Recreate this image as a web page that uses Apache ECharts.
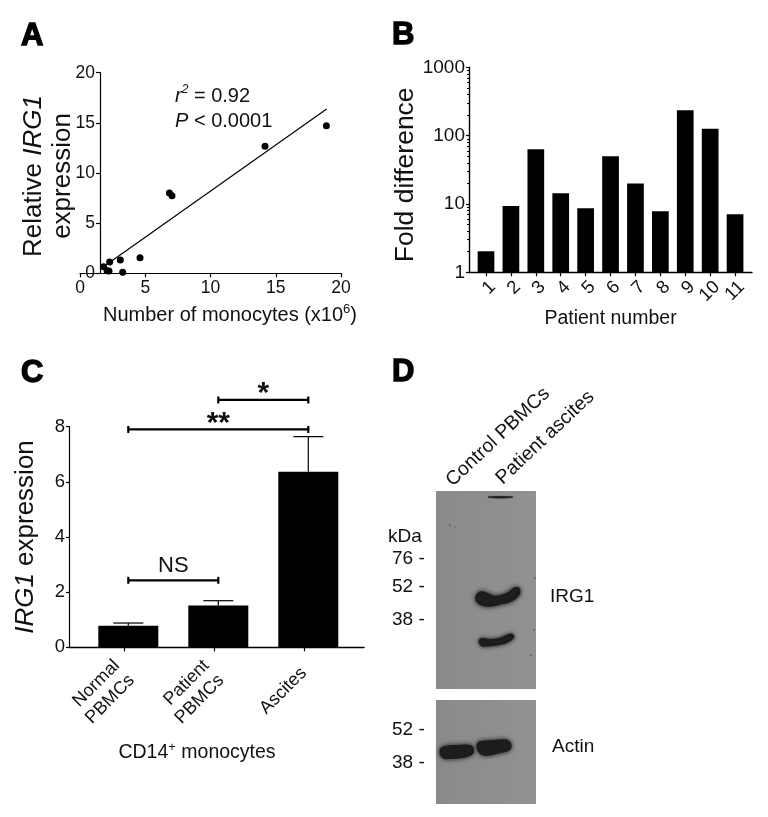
<!DOCTYPE html>
<html><head><meta charset="utf-8">
<style>html,body{margin:0;padding:0;background:#fff}#c{width:768px;height:817px}</style>
<script src="https://cdn.jsdelivr.net/npm/echarts@6/dist/echarts.min.js"></script>
</head><body><div id="c"></div>
<script>
// Panel A
const monocytePoints = [[1.81,0.66],[2.27,1.13],[2.22,0.23],[2.08,0.25],[3.09,1.33],[3.27,0.1],[4.6,1.56],[6.85,8.0],[7.05,7.74],[14.18,12.66],[18.88,14.72]];
const fitLine = [[1.8,0.66],[18.9,16.38]];
// Panel B
const patients = [1,2,3,4,5,6,7,8,9,10,11];
const foldDifference = [2.03,9.35,63,14.3,8.64,49.9,20,7.8,235,126,7.06];
// Panel C
const groupLabels = ['Normal\nPBMCs','Patient\nPBMCs','Ascites'];
const groupPositions = [1,2,3];
const groupTicks = [0.955,1.95,2.95];
const expression = [0.78,1.52,6.37];
const expressionUpper = [0.88,1.69,7.64];
const brackets = [[1,2,2.43,'NS'],[1,3,7.9,'**'],[2,3,8.97,'*']];

const FONT = '"Liberation Sans", Arial, sans-serif';
const BLK = '#111';
const PATIENT_AXIS_MAX = 11.68;
const line = (w)=>({show:true,onZero:false,lineStyle:{color:'#000',width:w}});
const tick = (len,w)=>({show:true,length:len,lineStyle:{color:'#000',width:w}});

function panelLetter(t,x,y){return {type:'text',x,y,style:{text:t,font:'bold 31px '+FONT,fill:'#000',stroke:'#000',lineWidth:1.4,textAlign:'left',textVerticalAlign:'middle'}};}
function txt(t,x,y,size,align,extra){return Object.assign({type:'text',x,y,style:{text:t,font:size+'px '+FONT,fill:BLK,textAlign:align||'left',textVerticalAlign:'middle'}},extra||{});}
function band(points,blur,w){return {type:'polygon',shape:{points,smooth:0.4},style:{fill:'#1c1c1c',stroke:'#1c1c1c',lineWidth:w==null?3:w,lineJoin:'round',shadowBlur:blur||5,shadowColor:'#222'}};}
function speck(x,y,s){return {type:'circle',shape:{cx:x,cy:y,r:s||0.7},style:{fill:'#333'}};}
const blotFill = {type:'linear',x:0,y:0,x2:1,y2:0,colorStops:[{offset:0,color:'#8a8a8a'},{offset:0.5,color:'#8e8e8e'},{offset:1,color:'#929292'}]};

const graphics = [
  panelLetter('A',21,36),panelLetter('B',392,35),panelLetter('C',21,373),panelLetter('D',392,372),
  {type:'text',x:175,y:96,style:{text:'{i|r}{s|2}{n| = 0.92}',textAlign:'left',textVerticalAlign:'middle',fill:BLK,
    rich:{i:{font:'italic 20px '+FONT,fill:BLK,lineHeight:24},s:{font:'italic 12px '+FONT,fill:BLK,verticalAlign:'top',lineHeight:24},n:{font:'20px '+FONT,fill:BLK,lineHeight:24}}}},
  {type:'text',x:175,y:121,style:{text:'{i|P}{n| < 0.0001}',textAlign:'left',textVerticalAlign:'middle',fill:BLK,
    rich:{i:{font:'italic 20px '+FONT,fill:BLK},n:{font:'20px '+FONT,fill:BLK}}}},
  {type:'text',x:103,y:315,style:{text:'{n|Number of monocytes (x10}{s|6}{n|)}',textAlign:'left',textVerticalAlign:'middle',
    rich:{n:{font:'20px '+FONT,fill:BLK,lineHeight:24},s:{font:'13px '+FONT,fill:BLK,verticalAlign:'top',lineHeight:24}}}},
  {type:'text',x:197,y:753,style:{text:'{n|CD14}{s|+}{n| monocytes}',textAlign:'center',textVerticalAlign:'middle',
    rich:{n:{font:'19.5px '+FONT,fill:BLK,lineHeight:24},s:{font:'13px '+FONT,fill:BLK,verticalAlign:'top',lineHeight:24}}}},
  // blots
  {type:'rect',shape:{x:436,y:491,width:100,height:198},style:{fill:blotFill}},
  {type:'rect',shape:{x:436,y:700,width:100,height:104},style:{fill:blotFill}},
  band([[488,497],[500,496.5],[513,497],[500,498]],1,0.5),
  band([[477,598],[481,593],[488,595],[495,597.5],[508,594],[515,589],[518,589],[518,594],[511,600],[500,603],[488,605],[480,603]],5,3.5),
  band([[480,641],[483,639.5],[490,640.5],[500,639],[511,635],[513,637],[505,642.5],[488,645],[482,645]],4,2.8),
  band([[441.5,751],[445,748],[458,747],[470,747],[472,750],[471,753],[465,755.5],[450,757],[444,756.5]],5,4),
  band([[478.5,745.5],[481,743],[495,742],[506,741.5],[509.5,745],[508,749],[500,751],[486,754],[480.5,751.5]],5,4),
  speck(450,525),speck(455,527,0.5),speck(535,578),speck(534,630),speck(531,655),
  txt('kDa',388,537,19),txt('76 -',392,559,19),txt('52 -',392,587,19),txt('38 -',392,620,19),
  txt('52 -',392,730,19),txt('38 -',392,763,19),txt('IRG1',550,597,19),txt('Actin',552,747,19),
  {type:'text',x:449,y:483,rotation:Math.PI/4-0.03,style:{text:'Control PBMCs',font:'19.5px '+FONT,fill:BLK,textAlign:'left',textVerticalAlign:'middle'}},
  {type:'text',x:499,y:481,rotation:Math.PI/4-0.03,style:{text:'Patient ascites',font:'19.5px '+FONT,fill:BLK,textAlign:'left',textVerticalAlign:'middle'}}
];

const option = {
  animation:false,
  backgroundColor:'#fff',
  textStyle:{fontFamily:FONT,color:BLK},
  grid:[
    {left:80,top:72.7,width:261,height:200.6,outerBoundsMode:'none'},
    {left:469,top:67.3,width:283,height:205,outerBoundsMode:'none'},
    {left:69,top:426.7,width:295,height:220.6,outerBoundsMode:'none'}
  ],
  xAxis:[
    {gridIndex:0,type:'value',min:0,max:20,interval:5,splitLine:{show:false},axisLine:line(1.2),axisTick:tick(4,1.2),
      axisLabel:{fontSize:17.5,color:BLK,margin:6,fontFamily:FONT}},
    {gridIndex:1,type:'value',min:0.317,max:PATIENT_AXIS_MAX,splitLine:{show:false},axisLine:line(1.4),axisTick:Object.assign(tick(4,1.2),{customValues:patients}),
      name:'Patient number',nameLocation:'middle',nameGap:35,nameTextStyle:{fontSize:19.5,color:BLK,fontFamily:FONT},
      axisLabel:{customValues:patients.concat(PATIENT_AXIS_MAX),formatter:(v)=>patients.includes(v)?String(v):'',rotate:45,verticalAlign:'top',hideOverlap:false,fontSize:18.5,color:BLK,margin:5,fontFamily:FONT}},
    {gridIndex:2,type:'value',min:0.341,max:3.619,splitLine:{show:false},axisLine:line(1.4),axisTick:Object.assign(tick(4,1.2),{customValues:groupTicks}),
      axisLabel:{customValues:groupTicks,hideOverlap:false,formatter:(v)=>groupLabels[groupTicks.indexOf(v)],rotate:45,fontSize:18,color:BLK,margin:23,lineHeight:21,fontFamily:FONT}}
  ],
  yAxis:[
    {gridIndex:0,type:'value',min:0,max:20,interval:5,offset:-20,splitLine:{show:false},axisLine:line(1.2),axisTick:tick(4,1.2),
      axisLabel:{fontSize:17.5,color:BLK,margin:5,fontFamily:FONT},
      name:'{n|Relative }{i|IRG1}\n{n|expression}',nameLocation:'middle',nameGap:23,nameMoveOverlap:false,nameRotate:90,
      nameTextStyle:{padding:[0,6,0,0],rich:{n:{fontSize:26,color:BLK,fontFamily:FONT,lineHeight:29},i:{fontSize:26,fontStyle:'italic',color:BLK,fontFamily:FONT,lineHeight:29}}}},
    {gridIndex:1,type:'log',logBase:10,min:1,max:1000,splitLine:{show:false},axisLine:line(1.4),axisTick:tick(3,1.2),
      minorTick:{show:true,splitNumber:9,length:2,lineStyle:{color:'#000',width:1}},
      axisLabel:{formatter:(v)=>String(v),fontSize:19,color:BLK,margin:4,fontFamily:FONT},
      name:'Fold difference',nameLocation:'middle',nameGap:50,nameRotate:90,nameTextStyle:{fontSize:26.5,color:BLK,fontFamily:FONT,padding:[0,10,0,0]}},
    {gridIndex:2,type:'value',min:0,max:8,interval:2,splitLine:{show:false},axisLine:line(1.2),axisTick:tick(3,1.2),
      axisLabel:{fontSize:18.5,color:BLK,margin:4,fontFamily:FONT},
      name:'{i|IRG1}{n| expression}',nameLocation:'middle',nameGap:30,nameRotate:90,
      nameTextStyle:{padding:[3,0,0,0],rich:{n:{fontSize:26,color:BLK,fontFamily:FONT},i:{fontSize:26,fontStyle:'italic',color:BLK,fontFamily:FONT}}}}
  ],
  graphic:graphics,
  series:[
    {type:'line',xAxisIndex:0,yAxisIndex:0,data:fitLine,showSymbol:false,lineStyle:{color:'#000',width:1.2},silent:true},
    {type:'scatter',xAxisIndex:0,yAxisIndex:0,data:monocytePoints,symbolSize:7,clip:false,itemStyle:{color:'#000',opacity:1}},
    {type:'bar',xAxisIndex:1,yAxisIndex:1,data:patients.map((p,i)=>[p,foldDifference[i]]),barWidth:16.7,itemStyle:{color:'#000'}},
    {type:'bar',xAxisIndex:2,yAxisIndex:2,data:groupPositions.map((p,i)=>[p,expression[i]]),barWidth:60,itemStyle:{color:'#000'}},
    {type:'custom',xAxisIndex:2,yAxisIndex:2,clip:false,z:1,
      data:groupPositions.map((p,i)=>[p,expression[i],expressionUpper[i]]),
      encode:{x:0,y:[1,2]},
      renderItem:(params,api)=>{
        const a=api.coord([api.value(0),api.value(1)]),b=api.coord([api.value(0),api.value(2)]);
        const st={stroke:'#000',lineWidth:1.2};
        return {type:'group',children:[
          {type:'line',shape:{x1:a[0],y1:a[1],x2:b[0],y2:b[1]},style:st},
          {type:'line',shape:{x1:b[0]-15,y1:b[1],x2:b[0]+15,y2:b[1]},style:st}
        ]};
      }},
    {type:'custom',xAxisIndex:2,yAxisIndex:2,clip:false,
      data:brackets.map(b=>[b[0],b[1],b[2]]),
      encode:{x:[0,1],y:2},
      renderItem:(params,api)=>{
        const a=api.coord([api.value(0),api.value(2)]),b=api.coord([api.value(1),api.value(2)]);
        const st={stroke:'#000',lineWidth:2.2};
        const label=brackets[params.dataIndex][3];
        const ns=label==='NS';
        return {type:'group',children:[
          {type:'line',shape:{x1:a[0],y1:a[1],x2:b[0],y2:b[1]},style:st},
          {type:'line',shape:{x1:a[0],y1:a[1]-3.5,x2:a[0],y2:a[1]+3.5},style:st},
          {type:'line',shape:{x1:b[0],y1:b[1]-3.5,x2:b[0],y2:b[1]+3.5},style:st},
          {type:'text',x:(a[0]+b[0])/2,y:a[1]+(ns?-14:9),style:{text:label,font:(ns?'22px ':'bold 30px ')+FONT,fill:BLK,textAlign:'center',textVerticalAlign:ns?'middle':'bottom'}}
        ]};
      }}
  ]
};
echarts.init(document.getElementById('c'),null,{renderer:'canvas'}).setOption(option);
</script></body></html>
